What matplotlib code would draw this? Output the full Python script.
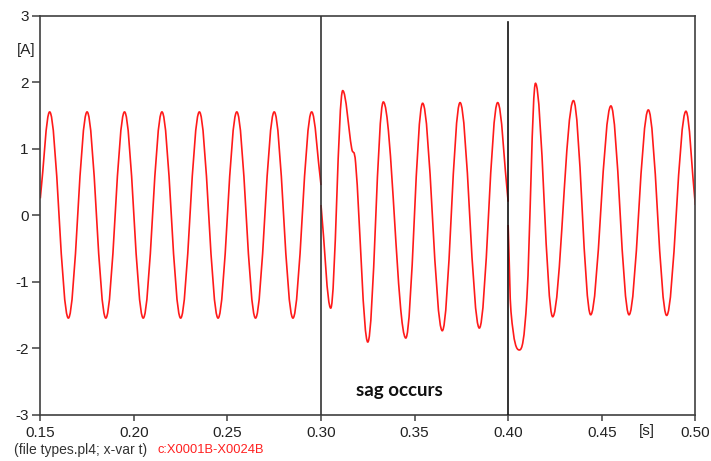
import matplotlib
matplotlib.use("Agg")
import matplotlib.pyplot as plt
from matplotlib.path import Path
from matplotlib.patches import PathPatch

# ---- data (extrema / key points of the current trace) ----
pre_t = [0.150, 0.155, 0.165, 0.175, 0.185, 0.195, 0.205, 0.215, 0.225,
         0.235, 0.245, 0.255, 0.265, 0.275, 0.285, 0.295, 0.300]
pre_v = [0.25, 1.55, -1.55, 1.55, -1.55, 1.55, -1.55, 1.55, -1.55,
         1.55, -1.55, 1.55, -1.55, 1.55, -1.55, 1.55, 0.45]

sag_t = [0.300, 0.3052, 0.3116, 0.3164, 0.3185, 0.3250, 0.3333, 0.3453, 0.3543,
         0.3648, 0.3743, 0.3846, 0.3944, 0.400]
sag_v = [0.15, -1.40, 1.87, 1.00, 0.78, -1.91, 1.70, -1.85, 1.68,
         -1.74, 1.69, -1.70, 1.69, 0.20]

post_t = [0.400, 0.4015, 0.4060, 0.4100, 0.4146, 0.4238, 0.4349, 0.4441, 0.4549,
          0.4646, 0.4749, 0.4847, 0.4950, 0.500]
post_v = [-0.15, -1.45, -2.03, -1.25, 1.98, -1.53, 1.72, -1.50, 1.64,
          -1.50, 1.58, -1.51, 1.56, 0.15]

event_times = [0.30, 0.40]
x_ticks = [0.15, 0.20, 0.25, 0.30, 0.35, 0.40, 0.45, 0.50]
x_labels = ["0.15", "0.20", "0.25", "0.30", "0.35", "0.40", "0.45", "0.50"]
y_ticks = [-3, -2, -1, 0, 1, 2, 3]
y_labels = ["-3", "-2", "-1", "0", "1", "2", "3"]


def smooth_path(ts, vs, k=0.36):
    n = len(ts)
    slopes = []
    for i in range(n):
        if i == 0:
            s = (vs[1] - vs[0]) / (ts[1] - ts[0])
        elif i == n - 1:
            s = (vs[-1] - vs[-2]) / (ts[-1] - ts[-2])
        else:
            a = vs[i] - vs[i - 1]
            b = vs[i + 1] - vs[i]
            s = 0.0 if a * b <= 0 else (vs[i + 1] - vs[i - 1]) / (ts[i + 1] - ts[i - 1])
        slopes.append(s)
    verts = [(ts[0], vs[0])]
    codes = [Path.MOVETO]
    for i in range(n - 1):
        dt = ts[i + 1] - ts[i]
        verts += [(ts[i] + k * dt, vs[i] + slopes[i] * k * dt),
                  (ts[i + 1] - k * dt, vs[i + 1] - slopes[i + 1] * k * dt),
                  (ts[i + 1], vs[i + 1])]
        codes += [Path.CURVE4] * 3
    return Path(verts, codes)


plt.rcParams['font.family'] = ['Liberation Sans', 'DejaVu Sans']

fig = plt.figure(figsize=(7.11, 4.61), dpi=100)
W, H = 711, 461
x0, x1, y0, y1 = 40.3, 695.3, 15.5, 414.5
ax = fig.add_axes([x0 / W, 1 - y1 / H, (x1 - x0) / W, (y1 - y0) / H])

for ts, vs in [(pre_t, pre_v), (sag_t, sag_v), (post_t, post_v)]:
    ax.add_patch(PathPatch(smooth_path(ts, vs), fill=False, edgecolor='#ff1a1a',
                           lw=1.2, zorder=2))

ax.plot([event_times[0]] * 2, [-3, 3], color='#333333', lw=1.2, zorder=3)
ax.plot([event_times[1]] * 2, [-3, 2.9], color='#111111', lw=1.2, zorder=3)

ax.set_xlim(0.15, 0.50)
ax.set_ylim(-3, 3)
ax.set_xticks(x_ticks)
ax.set_xticklabels(x_labels)
ax.set_yticks(y_ticks)
ax.set_yticklabels(y_labels)

for sp in ax.spines.values():
    sp.set_color('#404040')
    sp.set_linewidth(1.2)

ax.tick_params(axis='x', direction='out', length=4, width=1.1, color='#404040',
               labelsize=11, labelcolor='#222222', pad=4)
ax.tick_params(axis='y', direction='out', length=5.5, width=1.1, color='#404040',
               labelsize=11, labelcolor='#222222', pad=3)

ax.text(0.1424, 2.48, "[A]", fontsize=11, color='#222222', ha='center', va='center',
        clip_on=False)
ax.text(0.4741, -3.245, "[s]", fontsize=11, color='#222222', ha='center', va='center',
        clip_on=False)
ax.text(0.342, -2.64, "sag occurs", fontsize=13.5, fontweight='bold',
        family=['Lato', 'DejaVu Sans'], color='#111111', ha='center', va='center')

fig.text(14 / W, 1 - 449.5 / H, "(file types.pl4; x-var t)", fontsize=10, color='#333333',
         ha='left', va='center')
fig.text(157 / W, 1 - 449.5 / H, "c:X0001B-X0024B", fontsize=9.3, color='#ff2020',
         ha='left', va='center')

fig.savefig("out.png", dpi=100, facecolor='white')
